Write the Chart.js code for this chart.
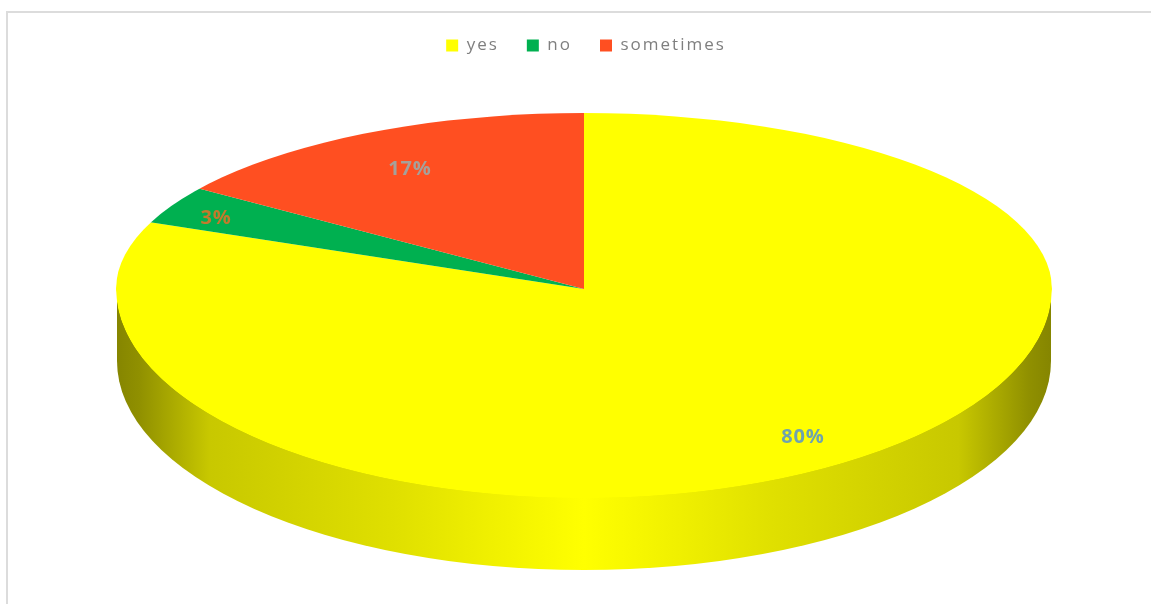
<!DOCTYPE html>
<html>
<head>
<meta charset="utf-8">
<script src="https://cdn.jsdelivr.net/npm/chart.js@4"></script>
<style>
	html, body { margin: 0; padding: 0; background: #fff; overflow: hidden; }
	#frame { position: absolute; left: 6px; top: 11px; width: 1145px; height: 593px; border-top: 2px solid #dcdcdc; border-left: 2px solid #dcdcdc; box-sizing: border-box; }
	canvas { position: absolute; left: 0; top: 0; }
</style>
</head>
<body>
<div id="frame"></div>
<canvas id="chart1" width="1151" height="604"></canvas>
<script>
const categories = ['yes', 'no', 'sometimes']
const percents = [80, 3, 17]
const sliceColors = ['#ffff00', '#00b050', '#ff4f21']
const labelColors = ['#6fa3ad', '#c27a2c', '#a6a09a']

// where the top face of the tilted pie sits on the page
const face = { x: 584, y: 289, rx: 468, ryBack: 176, ryFront: 209 }
const rimDepth = 72
const labelSpots = [[803, 437], [216, 218], [410, 169]]

function drawRim(ctx) {
	const left = face.x - face.rx
	const shade = ctx.createLinearGradient(left, 0, face.x + face.rx, 0)
	const stops = [[1, '#858500'], [0.95, '#909000'], [0.875, '#acac00'], [0.8, '#c8c800'], [0.6, '#d4d400'], [0.4, '#e0e000'], [0.2, '#f0f000'], [0, '#ffff00']]
	stops.forEach(([d, color]) => {
		shade.addColorStop(0.5 - d / 2, color)
		shade.addColorStop(0.5 + d / 2, color)
	})
	ctx.fillStyle = shade
	ctx.beginPath()
	ctx.moveTo(left + 1, face.y + 8)
	ctx.lineTo(left + 1, face.y + rimDepth)
	ctx.ellipse(face.x, face.y + rimDepth, face.rx - 1, face.ryFront, 0, Math.PI, 0, true)
	ctx.lineTo(face.x + face.rx - 1, face.y + 8)
	ctx.closePath()
	ctx.fill()
}

function drawFaceHalf(chart, arcs, ry, wedgeRy, back) {
	const ctx = chart.ctx
	const outer = arcs[0].outerRadius
	ctx.save()
	ctx.beginPath()
	ctx.ellipse(face.x, face.y, face.rx, ry, 0, Math.PI, 0, !back)
	ctx.closePath()
	ctx.clip()
	ctx.translate(face.x, face.y)
	ctx.scale(face.rx / outer, wedgeRy / outer)
	ctx.translate(-arcs[0].x, -arcs[0].y)
	arcs.forEach(arc => arc.draw(ctx))
	ctx.restore()
}

const tiltedPie = {
	id: 'tiltedPie',
	beforeLayout(chart) {
		chart.ctx.letterSpacing = '2px'
	},
	beforeDraw(chart) {
		chart.ctx.letterSpacing = '2px'
	},
	beforeDatasetsDraw(chart) {
		const ctx = chart.ctx
		const arcs = chart.getDatasetMeta(0).data
		ctx.letterSpacing = '0px'
		drawRim(ctx)
		// the back half looks shorter, so the wedge edges lean more than the outline
		drawFaceHalf(chart, arcs, face.ryBack, 222, true)
		drawFaceHalf(chart, arcs, face.ryFront, face.ryFront, false)

		ctx.font = 'bold 20px "Open Sans"'
		ctx.letterSpacing = '0.8px'
		ctx.textAlign = 'center'
		ctx.textBaseline = 'middle'
		percents.forEach((value, i) => {
			ctx.fillStyle = labelColors[i]
			ctx.fillText(value + '%', labelSpots[i][0], labelSpots[i][1])
		})
		ctx.letterSpacing = '0px'
		return false
	},
}

new Chart('chart1', {
	type: 'pie',
	data: {
		labels: categories,
		datasets: [
			{
				data: percents,
				backgroundColor: sliceColors,
				borderWidth: 0,
			},
		],
	},
	options: {
		responsive: false,
		animation: false,
		layout: { padding: { left: 21, top: 9 } },
		plugins: {
			tooltip: { enabled: false },
			legend: {
				position: 'top',
				labels: {
					boxWidth: 12,
					boxHeight: 12,
					padding: 28,
					color: '#7f7f7f',
					font: { family: '"Open Sans"', size: 17 },
				},
			},
		},
	},
	plugins: [tiltedPie],
})
</script>
</body>
</html>
